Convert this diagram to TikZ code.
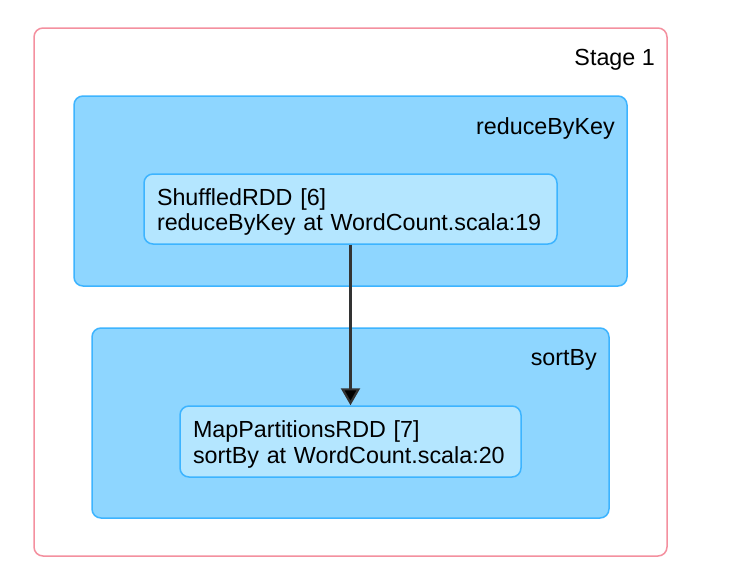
\documentclass[tikz,border=0pt]{standalone}
\usepackage{fontspec}
\setmainfont{Liberation Sans}
\usetikzlibrary{arrows.meta, positioning}

\definecolor{stagepink}{HTML}{F4909F}
\definecolor{clusterfill}{HTML}{8ED6FF}
\definecolor{clusterline}{HTML}{3DB4FF}
\definecolor{rddfill}{HTML}{B4E6FF}
\definecolor{edgegray}{HTML}{333333}

\begin{document}
\begin{tikzpicture}[x=1pt, y=1pt, font=\fontsize{23.3}{25.5}\selectfont]
            \tikzstyle{stagebox} = [rectangle, draw=stagepink, line width=1.5pt, fill=white, rounded corners=9pt]
            \tikzstyle{cluster} = [rectangle, draw=clusterline, line width=1.5pt, fill=clusterfill, rounded corners=9pt]
            \tikzstyle{rdd} = [rectangle, draw=clusterline, line width=1.5pt, fill=rddfill, rounded corners=9pt, align=left, inner xsep=13pt, text height=23pt]
            \tikzstyle{line} = [draw=edgegray, line width=2.2pt, -{Triangle[length=17pt, width=19pt, fill=black]}]

            \useasboundingbox (0,0) rectangle (732,-584);

            \node [stagebox, minimum width=633pt, minimum height=528pt] (stage) at (350.5,-292) {};
            \node [anchor=base east, inner sep=0pt] (stagelbl) at (655,-65.7) {Stage 1};

            \node [cluster, minimum width=553pt, minimum height=190pt] (rbk) at (350.5,-191) {};
            \node [anchor=base east, inner sep=0pt] (rbklbl) at (615,-134.3) {reduceByKey};

            \node [cluster, minimum width=517pt, minimum height=190pt] (sby) at (350.5,-423) {};
            \node [anchor=base east, inner sep=0pt] (sbylbl) at (597,-365) {sortBy};

            \node [rdd, minimum width=413pt, minimum height=70pt, text width=387pt] (shuf) at (350.5,-209) {ShuffledRDD [6]\\reduceByKey at WordCount.scala:19};
            \node [rdd, minimum width=341pt, minimum height=71pt, text width=315pt] (mapp) at (350.5,-441.5) {MapPartitionsRDD [7]\\sortBy at WordCount.scala:20};

            \path [line] (shuf) -- (mapp);
        \end{tikzpicture}
\end{document}
